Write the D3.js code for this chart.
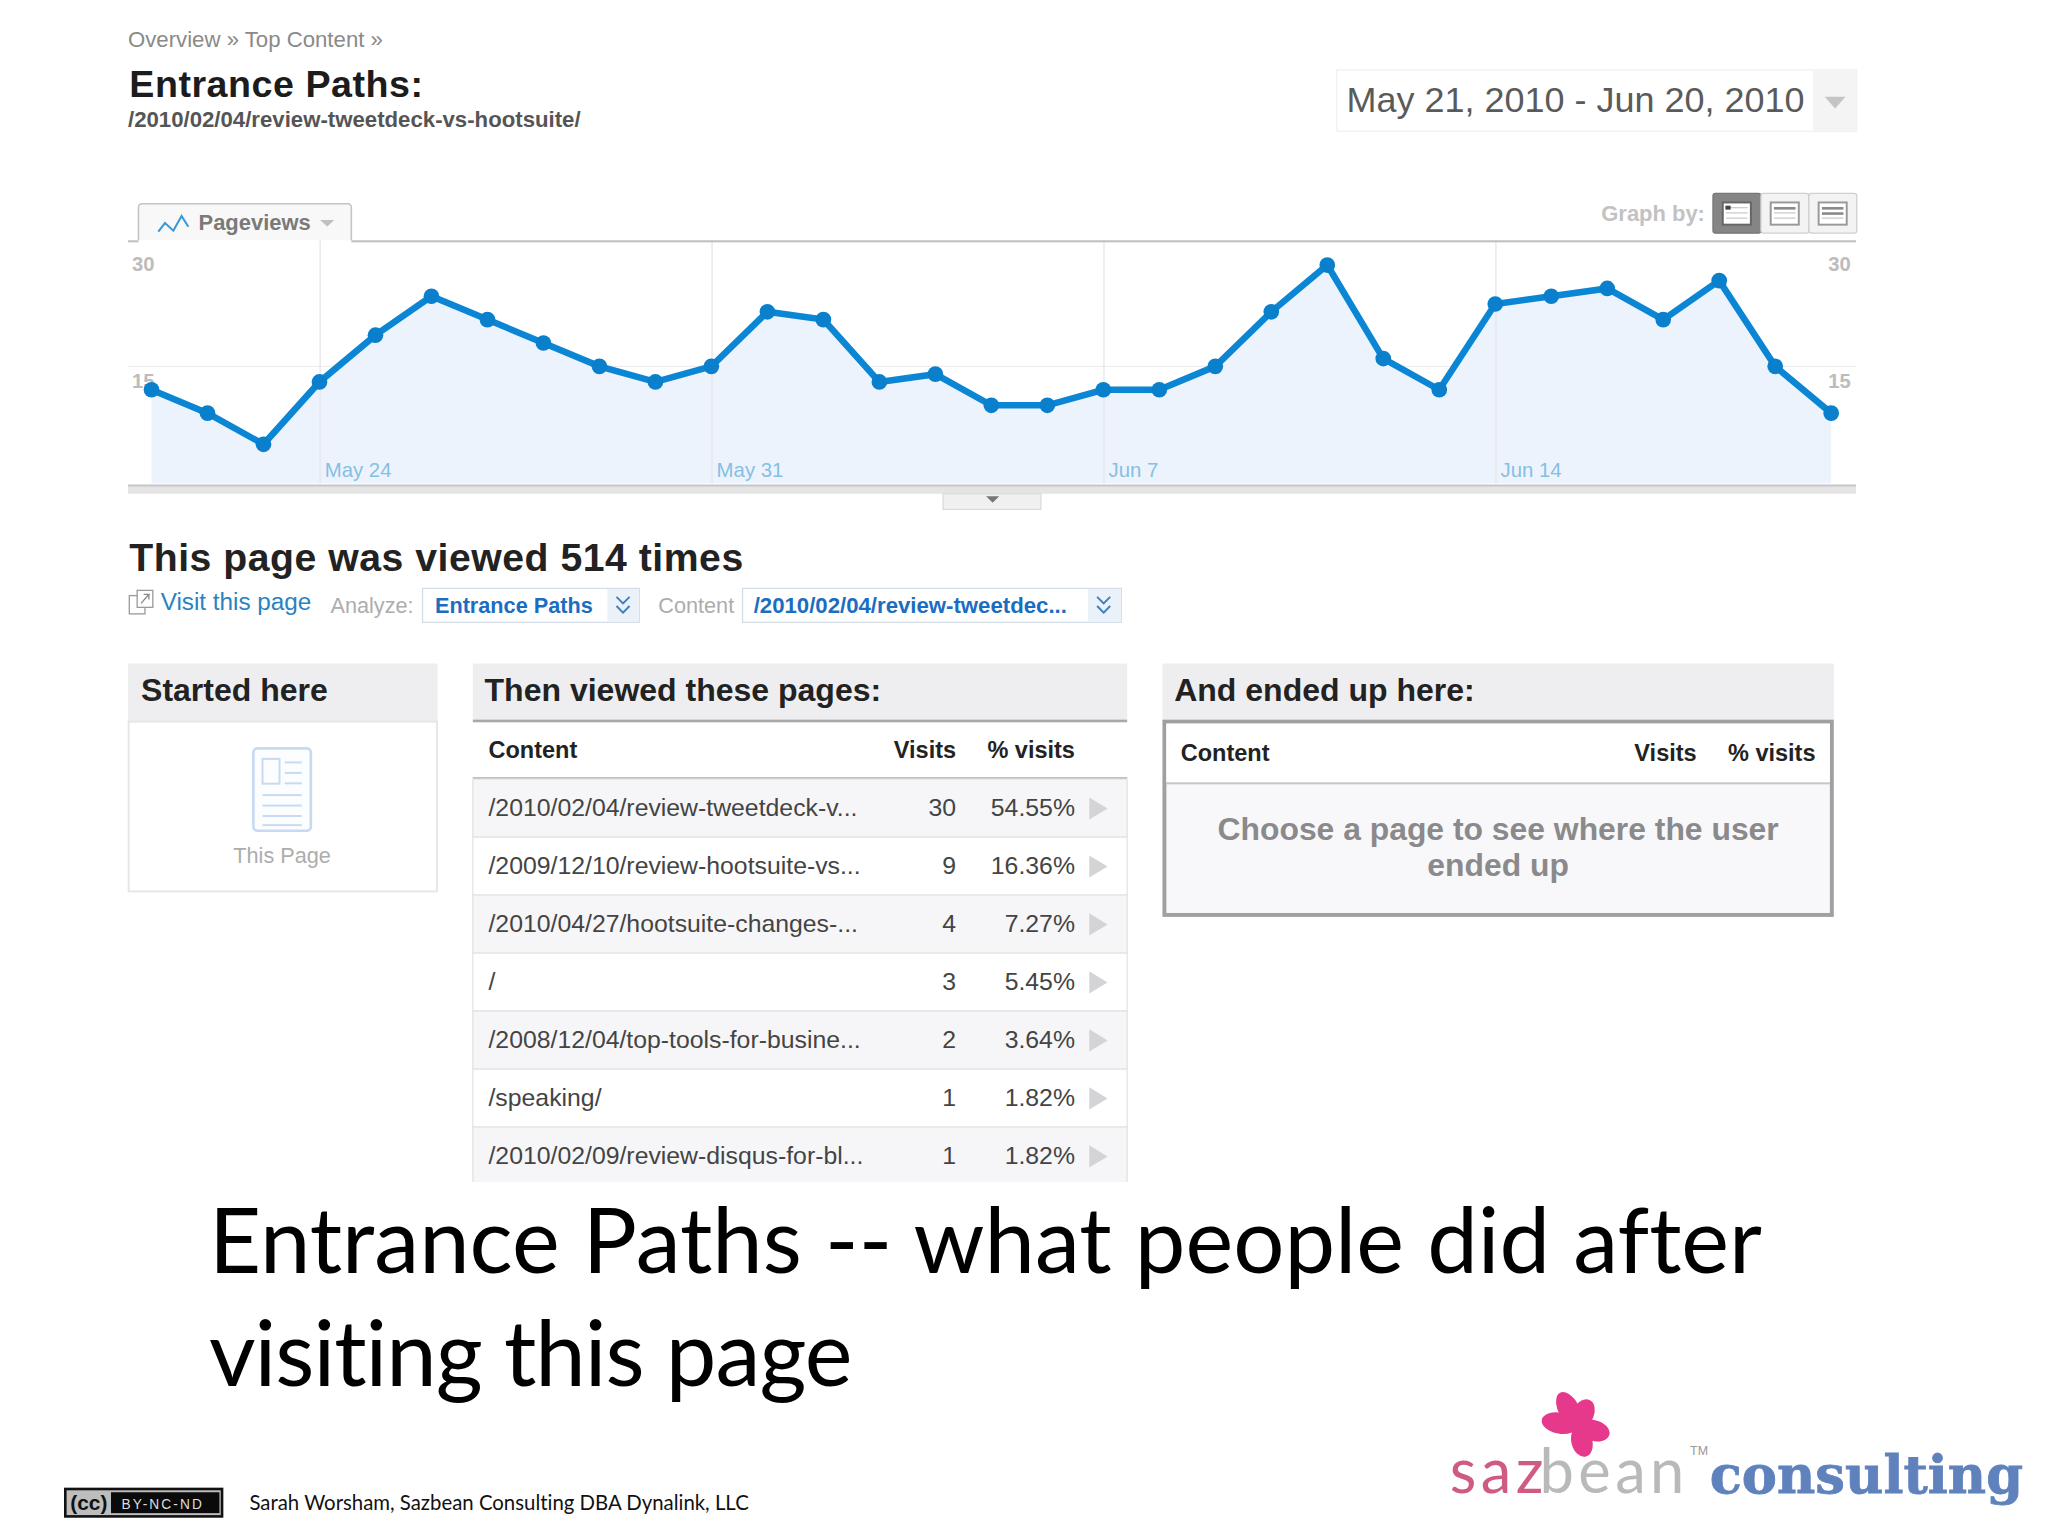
<!DOCTYPE html>
<html>
<head>
<meta charset="utf-8">
<title>Entrance Paths</title>
<script src="https://cdn.jsdelivr.net/npm/d3@7"></script>
<style>
    body { margin: 0; background: #fff; }
    svg { display: block; }
    text { font-family: "Liberation Sans", Arial, sans-serif; font-variant-ligatures: none; }
    .axis path { display: none; }
</style>
</head>
<body>
<svg id="svg"></svg>
<script>
//Data
const startDay = '2010-05-21';
const endDay = '2010-06-20';
const pageviews = [12, 9, 5, 13, 19, 24, 21, 18, 15, 13, 15, 22, 21, 13, 14, 10, 10, 12, 12, 15, 22, 28, 16, 12, 23, 24, 25, 21, 26, 15, 9];
const tickDays = ['2010-05-24', '2010-05-31', '2010-06-07', '2010-06-14'];
const yTicks = [15, 30];
const pagePaths = ['/2010/02/04/review-tweetdeck-v...', '/2009/12/10/review-hootsuite-vs...', '/2010/04/27/hootsuite-changes-...', '/', '/2008/12/04/top-tools-for-busine...', '/speaking/', '/2010/02/09/review-disqus-for-bl...'];
const pageVisits = [30, 9, 4, 3, 2, 1, 1];
const pagePercents = ['54.55%', '16.36%', '7.27%', '5.45%', '3.64%', '1.82%', '1.82%'];
const titleLines = ['Entrance Paths -- what people did after', 'visiting this page'];
const emptyLines = ['Choose a page to see where the user', 'ended up'];

//Everything below is laid out on a 1568 x 1176 grid
const svg = d3.select('#svg')
    .attr('width', 2048)
    .attr('height', 1536)
    .attr('viewBox', '0 0 1568 1176');

const label = (sel, x, y, str, size, color, opts = {}) => sel.append('text')
    .attr('x', x)
    .attr('y', y)
    .attr('font-size', size)
    .attr('fill', color)
    .attr('font-weight', opts.weight || 400)
    .attr('text-anchor', opts.anchor || 'start')
    .attr('letter-spacing', opts.spacing || 0)
    .style('font-family', opts.font || null)
    .text(str);

const box = (sel, x, y, w, h, fill, stroke, sw = 1, r = 0) => sel.append('rect')
    .attr('x', x)
    .attr('y', y)
    .attr('width', w)
    .attr('height', h)
    .attr('rx', r)
    .attr('fill', fill)
    .attr('stroke', stroke || 'none')
    .attr('stroke-width', sw);

const triangle = (sel, points, color) => sel.append('polygon')
    .attr('points', points)
    .attr('fill', color);

//Header
label(svg, 98, 36, 'Overview » Top Content »', 17, '#8a8a8a');
label(svg, 99, 74, 'Entrance Paths:', 28.8, '#1c1c1c', {weight: 700, spacing: 0.4});
label(svg, 98, 97, '/2010/02/04/review-tweetdeck-vs-hootsuite/', 17, '#555', {weight: 700});

box(svg, 1023.5, 53.5, 398, 47, '#fff', '#f0f0f0');
box(svg, 1388, 54, 33, 46, '#f4f4f4');
label(svg, 1031, 86, 'May 21, 2010 - Jun 20, 2010', 27.55, '#5a5a5a');
triangle(svg, '1397,74 1413,74 1405,83', '#c4c4c4');

//Metric tab and graph-by buttons
svg.append('path')
    .attr('d', 'M106,184 V159 Q106,156 109,156 H266 Q269,156 269,159 V184')
    .attr('fill', '#f8f8f8')
    .attr('stroke', '#c4c4c4')
    .attr('stroke-width', 1.2);
svg.append('polyline')
    .attr('points', '121.2,177.4 126.3,170.8 132.7,176.6 139,165.4 144.2,173.6')
    .attr('fill', 'none')
    .attr('stroke', '#3a9ad9')
    .attr('stroke-width', 1.6);
label(svg, 152, 176, 'Pageviews', 16.8, '#7a7a7a', {weight: 700});
triangle(svg, '245,168.5 256,168.5 250.5,173.5', '#c0c0c0');

label(svg, 1226, 169, 'Graph by:', 16.8, '#c2c2c2', {weight: 700});
d3.range(3).forEach(i => {
    const bx = 1311.5 + i * 36.7;
    box(svg, bx, 148, 36.7, 30.5, i === 0 ? '#858585' : '#f3f3f3', i === 0 ? '#777' : '#cfcfcf', 1, 2);
    box(svg, bx + 7.5, 155, 21.5, 17, '#fff', i === 0 ? '#666' : '#999', 1.5);
    d3.range(3).forEach(k => box(svg, bx + 10, 158.5 + k * 4, 16.5, k < i ? 2 : 1, k < i ? '#8a8a8a' : '#cccccc'));
});
box(svg, 1321, 157.5, 4, 3, '#444');

//Line chart
const parseDay = d3.timeParse('%Y-%m-%d');
const days = d3.timeDay.range(parseDay(startDay), d3.timeDay.offset(parseDay(endDay), 1));
const points = pageviews.map((v, i) => ({day: days[i], value: v}));

const x = d3.scaleTime()
    .domain([parseDay(startDay), parseDay(endDay)])
    .range([116, 1402]);

const y = d3.scaleLinear()
    .domain([0, 30])
    .range([370, 191]);

const chart = svg.append('g');

// faint horizontal line at the middle tick
chart.append('line')
    .attr('x1', 98)
    .attr('x2', 1421)
    .attr('y1', y(15))
    .attr('y2', y(15))
    .attr('stroke', '#eeeeee');

const leftAxis = chart.append('g')
    .attr('class', 'axis')
    .attr('transform', 'translate(101,0)')
    .call(d3.axisRight(y).tickValues(yTicks).tickSize(0).tickPadding(0));

const rightAxis = chart.append('g')
    .attr('class', 'axis')
    .attr('transform', 'translate(1417,0)')
    .call(d3.axisLeft(y).tickValues(yTicks).tickSize(0).tickPadding(0));

[leftAxis, rightAxis].forEach(a => a.selectAll('text')
    .attr('dy', 16)
    .attr('font-size', 15.5)
    .attr('font-weight', 700)
    .attr('font-family', null)
    .attr('fill', '#bcbcbc'));

const area = d3.area()
    .x(d => x(d.day))
    .y0(y(0))
    .y1(d => y(d.value));

const line = d3.line()
    .x(d => x(d.day))
    .y(d => y(d.value));

chart.append('path')
    .attr('d', area(points))
    .attr('fill', '#edf3fc');

const xAxis = chart.append('g')
    .attr('class', 'axis')
    .attr('transform', 'translate(0,' + y(0) + ')')
    .call(d3.axisBottom(x)
        .tickValues(tickDays.map(parseDay))
        .tickFormat(d3.timeFormat('%b %-d'))
        .tickSize(-186));

xAxis.selectAll('line').attr('stroke', '#e4e6ea');
xAxis.selectAll('text')
    .attr('text-anchor', 'start')
    .attr('x', 3.5)
    .attr('y', -5)
    .attr('dy', 0)
    .attr('font-size', 15.6)
    .attr('font-family', null)
    .attr('fill', '#86bfe4');

chart.append('path')
    .attr('d', line(points))
    .attr('fill', 'none')
    .attr('stroke', '#0a86d4')
    .attr('stroke-width', 5);

chart.selectAll('circle')
    .data(points)
    .enter()
    .append('circle')
    .attr('cx', d => x(d.day))
    .attr('cy', d => y(d.value))
    .attr('r', 6)
    .attr('fill', '#0a7fcb');

box(svg, 98, 184, 8, 1.5, '#bdbdbd');
box(svg, 269, 184, 1152, 1.5, '#bdbdbd');
box(svg, 98, 371, 1323, 7, '#e4e4e4');
box(svg, 98, 371, 1323, 1.5, '#c8c8c8');
box(svg, 722, 378, 75, 12, '#f0f0f0', '#dcdcdc');
triangle(svg, '755,380 765,380 760,385', '#777');

//Summary row
label(svg, 99, 437, 'This page was viewed 514 times', 30, '#222', {weight: 700, spacing: 0.4});

box(svg, 99, 456, 12, 14, '#fff', '#9a9a9a');
box(svg, 105, 452, 12, 13, '#fff', '#9a9a9a');
svg.append('polyline')
    .attr('points', '108,462 114,455 110,455 114,455 114,459')
    .attr('fill', 'none')
    .attr('stroke', '#8a8a8a');
label(svg, 123, 467, 'Visit this page', 18.6, '#2a83c0');
label(svg, 253, 469, 'Analyze:', 16.6, '#adadad');
box(svg, 323.5, 450.5, 166, 26, '#fff', '#d5dde6');
box(svg, 465, 451, 24, 25, '#eaf1f9');
label(svg, 333, 469, 'Entrance Paths', 16.6, '#1b6dc1', {weight: 700});
label(svg, 504, 469, 'Content', 16.6, '#adadad');
box(svg, 568.5, 450.5, 290, 26, '#fff', '#d5dde6');
box(svg, 833, 451, 25, 25, '#eaf1f9');
label(svg, 577, 469, '/2010/02/04/review-tweetdec...', 17, '#1b6dc1', {weight: 700});
[477, 845].forEach(cx => {
    [457, 464].forEach(cy => svg.append('polyline')
        .attr('points', (cx - 5) + ',' + cy + ' ' + cx + ',' + (cy + 5) + ' ' + (cx + 5) + ',' + cy)
        .attr('fill', 'none')
        .attr('stroke', '#3d7fbf')
        .attr('stroke-width', 1.5));
});

//Started here panel
box(svg, 98, 508, 237, 44, '#eeeef0');
label(svg, 108, 537, 'Started here', 24.5, '#222', {weight: 700});
box(svg, 98.5, 552.5, 236, 130, '#fff', '#e6e6e6', 1.5);
box(svg, 194, 573, 44, 63, '#fcfdff', '#c6daf2', 2, 3);
box(svg, 201, 581, 13, 19, 'none', '#c6daf2', 1.5);
[583, 591, 599].forEach(ly => box(svg, 218, ly, 13, 1.5, '#c6daf2'));
[608, 616, 624, 631].forEach(ly => box(svg, 201, ly, 30, 1.5, '#c6daf2'));
label(svg, 216, 661, 'This Page', 16.6, '#adadad', {anchor: 'middle'});

//Then viewed panel
box(svg, 362, 508, 501, 44, '#eeeef0');
label(svg, 371, 537, 'Then viewed these pages:', 24.5, '#222', {weight: 700});
box(svg, 362, 551, 501, 2, '#a8a8a8');
label(svg, 374, 580, 'Content', 18, '#222', {weight: 700});
label(svg, 732, 580, 'Visits', 18, '#222', {weight: 700, anchor: 'end'});
label(svg, 823, 580, '% visits', 18, '#222', {weight: 700, anchor: 'end'});
box(svg, 362, 595, 501, 1.5, '#b5b5b5');

const rowScale = d3.scaleBand()
    .domain(d3.range(pagePaths.length))
    .range([596.5, 596.5 + 44.4 * pagePaths.length]);

svg.append('clipPath')
    .attr('id', 'tableClip')
    .append('rect')
    .attr('x', 360)
    .attr('y', 590)
    .attr('width', 506)
    .attr('height', 315);

const rows = svg.append('g')
    .attr('clip-path', 'url(#tableClip)')
    .selectAll('g')
    .data(pagePaths)
    .enter()
    .append('g')
    .attr('transform', (d, i) => 'translate(0,' + rowScale(i) + ')');

rows.append('rect')
    .attr('x', 362)
    .attr('width', 501)
    .attr('height', rowScale.bandwidth())
    .attr('fill', (d, i) => i % 2 === 0 ? '#f6f6f8' : '#fff')
    .attr('stroke', '#e4e4e6');

rows.append('text')
    .attr('x', 374)
    .attr('y', 28)
    .attr('font-size', 19)
    .attr('fill', '#444')
    .text(d => d);

rows.append('text')
    .attr('x', 732)
    .attr('y', 28)
    .attr('font-size', 19)
    .attr('fill', '#444')
    .attr('text-anchor', 'end')
    .text((d, i) => pageVisits[i]);

rows.append('text')
    .attr('x', 823)
    .attr('y', 28)
    .attr('font-size', 19)
    .attr('fill', '#444')
    .attr('text-anchor', 'end')
    .text((d, i) => pagePercents[i]);

rows.append('polygon')
    .attr('points', '834,14 848,22.5 834,31')
    .attr('fill', '#d4d4d6');

//And ended up panel
box(svg, 890, 508, 514, 44, '#eeeef0');
label(svg, 899, 537, 'And ended up here:', 24.5, '#222', {weight: 700});
box(svg, 891.5, 552.5, 511, 148, '#f8f8fa', '#a0a0a2', 3);
box(svg, 893, 554, 508, 45, '#fff');
box(svg, 893, 599, 508, 1.5, '#c6c6c8');
label(svg, 904, 583, 'Content', 18, '#222', {weight: 700});
label(svg, 1299, 583, 'Visits', 18, '#222', {weight: 700, anchor: 'end'});
label(svg, 1390, 583, '% visits', 18, '#222', {weight: 700, anchor: 'end'});
emptyLines.forEach((str, i) => label(svg, 1147, 643 + i * 28, str, 24.4, '#8a8a8c', {weight: 700, anchor: 'middle'}));

//Slide caption, the second line runs a little tighter
titleLines.forEach((str, i) => label(svg, 160, 975 + i * 86, str, 69.2, '#000', {font: 'Lato', spacing: i === 1 ? -0.75 : 0}));

//Licence badge and credit
box(svg, 49, 1139, 122, 23, '#111');
box(svg, 51, 1141, 118, 19, '#bdbdbd');
box(svg, 85, 1142.5, 83, 16, '#0a0a0a');
label(svg, 68, 1156, '(cc)', 16, '#111', {weight: 700, anchor: 'middle'});
label(svg, 93, 1155, 'BY-NC-ND', 10.5, '#ddd', {spacing: 1.6});
label(svg, 191, 1156, 'Sarah Worsham, Sazbean Consulting DBA Dynalink, LLC', 15.6, '#111', {font: 'Lato'});

//Logo
const flower = svg.append('g').attr('transform', 'translate(1208,1092)');
[[-28, 29], [24, 22], [105, 25], [165, 24], [-80, 28]].forEach(([angle, len]) => flower.append('ellipse')
    .attr('cx', 0)
    .attr('cy', -len / 2)
    .attr('rx', 8)
    .attr('ry', len / 2)
    .attr('transform', 'rotate(' + angle + ')')
    .attr('fill', '#e6398c'));

label(svg, 1110, 1143, 'saz', 47, '#cf5a84', {font: 'Lato', spacing: 3.4});
label(svg, 1293, 1143, 'bean', 47, '#b9b9b9', {font: 'Lato', spacing: 3.4, anchor: 'end'});
label(svg, 1294, 1114, 'TM', 9.5, '#999');
label(svg, 1309, 1143, 'consulting', 40.4, '#5f82bd', {font: 'DejaVu Serif', weight: 700})
    .attr('stroke', '#5f82bd')
    .attr('stroke-width', 0.6);
</script>
</body>
</html>
